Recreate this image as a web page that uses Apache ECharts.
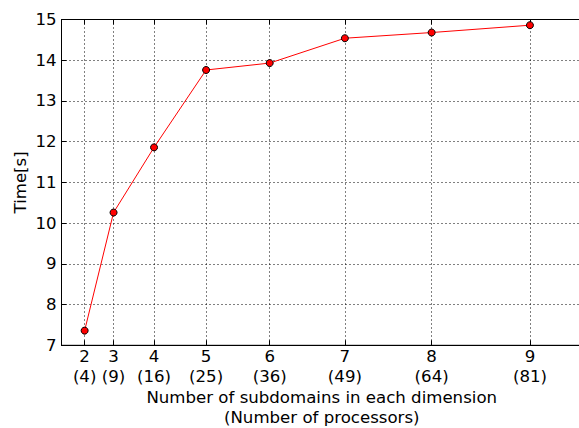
<!DOCTYPE html>
<html>
<head>
<meta charset="utf-8">
<script src="https://cdn.jsdelivr.net/npm/echarts@6/dist/echarts.min.js"></script>
<style>
  html, body { margin: 0; padding: 0; background: #fff; font-family: "DejaVu Sans"; }
  #chart { width: 579px; height: 428px; }
</style>
</head>
<body>
<div id="chart"></div>
<script>
// subdomains per dimension and the matching number of processors (x position)
var dims = [2, 3, 4, 5, 6, 7, 8, 9];
var procs = [4, 9, 16, 25, 36, 49, 64, 81];
// measured time in seconds
var times = [7.36, 10.26, 11.86, 13.76, 13.93, 14.54, 14.68, 14.86];
var yTicks = [7, 8, 9, 10, 11, 12, 13, 14, 15];

var font = "DejaVu Sans";
var fs = 16.6;
var points = procs.map(function (p, i) { return [p, times[i]]; });

var myChart = echarts.init(document.getElementById("chart"), null, { renderer: "svg" });

var gridLine = { show: true, lineStyle: { color: "#000", type: [1, 3], width: 1 } };

var option = {
  animation: false,
  textStyle: { fontFamily: font },
  grid: {
    left: 61.5, top: 19.5, right: -3, bottom: 82.7,
    containLabel: false,
    outerBoundsMode: "none",
    show: true, borderColor: "#000", borderWidth: 1, backgroundColor: "transparent"
  },
  xAxis: [{
    type: "value",
    min: 0, max: 90,
    position: "bottom",
    axisLine: { show: true, lineStyle: { color: "#000", width: 1 } },
    axisTick: { show: true, inside: true, length: 5, customValues: procs, lineStyle: { color: "#000" } },
    axisLabel: {
      customValues: procs,
      fontFamily: font, fontSize: fs, color: "#000", lineHeight: 20, margin: 1,
      formatter: function (v) {
        var i = procs.indexOf(v);
        return dims[i] + "\n(" + v + ")";
      }
    },
    splitLine: gridLine,
    name: "Number of subdomains in each dimension\n(Number of processors)",
    nameLocation: "middle",
    nameGap: 42,
    nameMoveOverlap: false,
    nameTextStyle: { fontFamily: font, fontSize: fs, color: "#000", lineHeight: 20, verticalAlign: "top" }
  }, {
    type: "value",
    min: 0, max: 90,
    position: "top",
    axisLine: { show: true, lineStyle: { color: "#000", width: 1 } },
    axisTick: { show: true, inside: true, length: 5, customValues: procs, lineStyle: { color: "#000" } },
    axisLabel: { show: false },
    splitLine: { show: false }
  }],
  yAxis: {
    type: "value",
    min: 7, max: 15, interval: 1,
    axisLine: { show: true, lineStyle: { color: "#000", width: 1 } },
    axisTick: { show: true, inside: true, length: 5, lineStyle: { color: "#000" } },
    axisLabel: {
      fontFamily: font, fontSize: fs, color: "#000", margin: 5,
      formatter: function (v) { return yTicks.indexOf(v) >= 0 ? String(v) : ""; }
    },
    splitLine: gridLine,
    name: "Time[s]",
    nameLocation: "middle",
    nameGap: 33,
    nameMoveOverlap: false,
    nameTextStyle: { fontFamily: font, fontSize: fs, color: "#000" }
  },
  series: [{
    type: "line",
    data: points,
    symbol: "circle",
    symbolSize: 7,
    lineStyle: { color: "#ff0000", width: 1 },
    itemStyle: { color: "#ff0000", borderColor: "#000", borderWidth: 1 }
  }]
};

myChart.setOption(option);
</script>
</body>
</html>
